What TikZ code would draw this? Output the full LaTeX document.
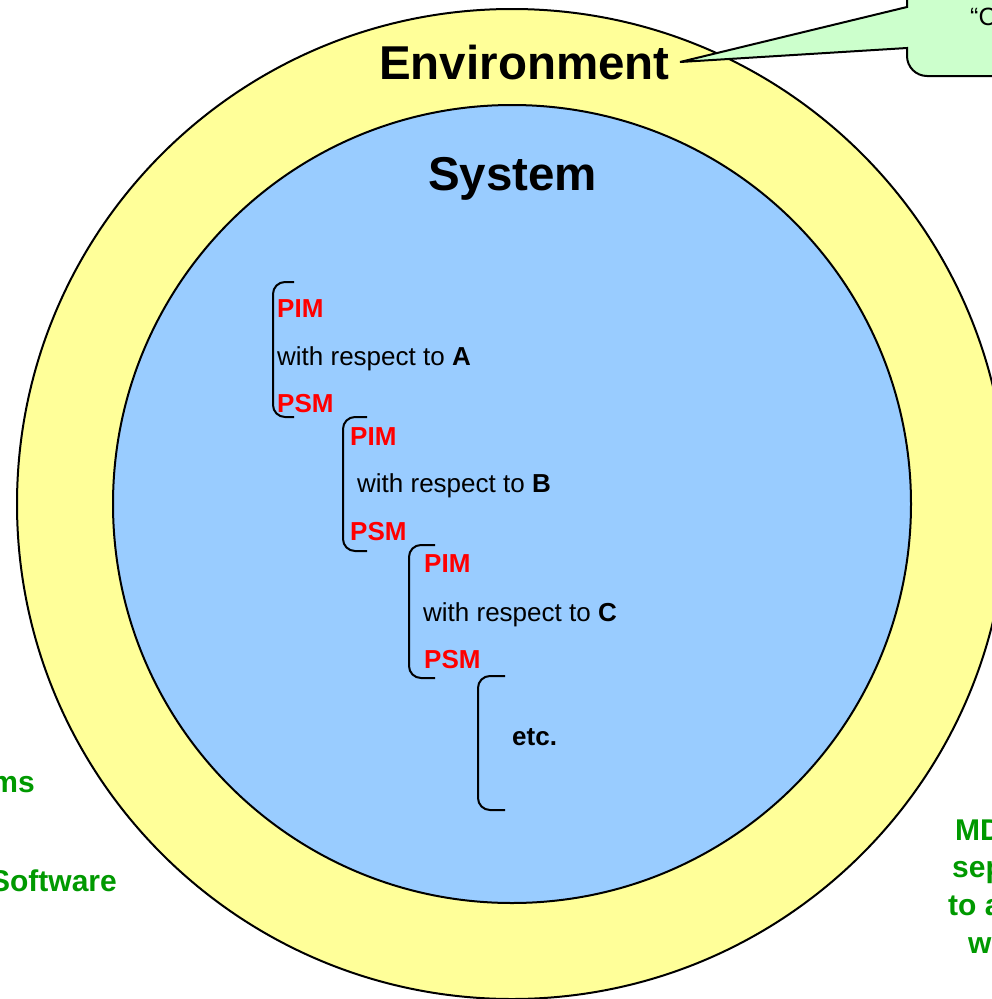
\documentclass[tikz,border=0pt]{standalone}
\usepackage{fontspec}
\setmainfont{Liberation Sans}
\definecolor{envyellow}{HTML}{FFFF99}
\definecolor{sysblue}{HTML}{99CCFF}
\definecolor{callgreen}{HTML}{CCFFCC}
\definecolor{notegreen}{HTML}{009900}
\definecolor{modelred}{HTML}{FF0000}
\begin{document}
\begin{tikzpicture}[x=1pt,y=-1pt,
  ring/.style={circle, draw=black, line width=2pt, inner sep=0pt},
  bigtitle/.style={anchor=base west, inner sep=0pt, font=\fontsize{47.5}{57}\selectfont\bfseries},
  modelname/.style={anchor=base west, inner sep=0pt, text=modelred, font=\fontsize{26}{31}\selectfont\bfseries},
  respect/.style={anchor=base west, inner sep=0pt, font=\fontsize{26}{31}\selectfont},
  note/.style={inner sep=0pt, text=notegreen, font=\fontsize{30}{36}\selectfont\bfseries},
  brack/.style={draw=black, line width=2pt, rounded corners=12pt}
]
\useasboundingbox (0,0) rectangle (992,999);
\clip (0,0) rectangle (992,999);

% circles
\node[ring, fill=envyellow, minimum size=990pt] (envcircle) at (512,504) {};
\node[ring, fill=sysblue, minimum size=798pt] (syscircle) at (512,504) {};

% callout
\draw[line width=2pt, fill=callgreen]
  (907,7) -- (680,62) -- (907,48) -- (907,56)
  .. controls (907,67) and (916,76) .. (927,76)
  -- (1100,76) -- (1100,-50) -- (907,-50) -- cycle;
\node[anchor=base west, inner sep=0pt, font=\fontsize{25}{30}\selectfont] (calltext) at (970,25) {“C};

% titles
\node[bigtitle] (envlabel) at (379,79) {Environment};
\node[bigtitle] (syslabel) at (428,190) {System};

% brackets
\draw[brack] (294,282) -- (273,282) -- (273,417) -- (294,417);
\draw[brack] (367,417) -- (343,417) -- (343,551) -- (367,551);
\draw[brack] (435,545) -- (409,545) -- (409,678) -- (435,678);
\draw[brack] (505,676) -- (478,676) -- (478,810) -- (505,810);

% level A
\node[modelname] (pimA) at (277,317) {PIM};
\node[respect] (wrtA) at (277,365) {with respect to \textbf{A}};
\node[modelname] (psmA) at (277,412) {PSM};
% level B
\node[modelname] (pimB) at (350,445) {PIM};
\node[respect] (wrtB) at (357,492) {with respect to \textbf{B}};
\node[modelname] (psmB) at (350,540) {PSM};
% level C
\node[modelname] (pimC) at (424,572) {PIM};
\node[respect] (wrtC) at (423,621) {with respect to \textbf{C}};
\node[modelname] (psmC) at (424,668) {PSM};
% etc
\node[respect, font=\fontsize{26}{31}\selectfont\bfseries] (etcl) at (512,745) {etc.};

% green notes (partially outside the picture)
\node[note, anchor=base east] (noteL1) at (35,792) {ms};
\node[note, anchor=base east] (noteL2) at (117,891) {Software};
\node[note, anchor=base west] (noteR1) at (955,840) {MD};
\node[note, anchor=base west] (noteR2) at (952,877) {sep};
\node[note, anchor=base west] (noteR3) at (948,915) {to a};
\node[note, anchor=base west] (noteR4) at (968,953) {w};
\end{tikzpicture}
\end{document}
